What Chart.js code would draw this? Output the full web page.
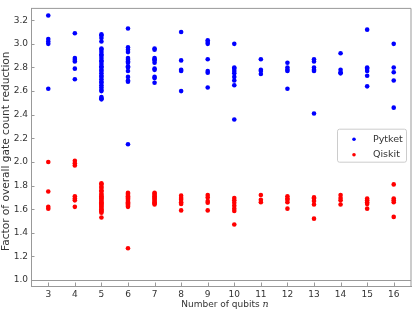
<!DOCTYPE html>
<html><head><meta charset="utf-8">
<script src="https://cdn.jsdelivr.net/npm/chart.js@4.4.0/dist/chart.umd.min.js"></script>
<style>html,body{margin:0;padding:0;background:#fff}#wrap{width:415px;height:313px}</style>
</head><body><div id="wrap"><canvas id="c" width="415" height="313"></canvas></div>
<script>
const qubits = [3,4,5,6,7,8,9,10,11,12,13,14,15,16];
const xTicks = [3,4,5,6,7,8,9,10,11,12,13,14,15,16];
const yTicks = [1.0,1.2,1.4,1.6,1.8,2.0,2.2,2.4,2.6,2.8,3.0,3.2];
const seriesNames = ['Pytket','Qiskit'];
const seriesColors = ['#0000ff','#ff0000'];
const pytketValues = [
  [3.24,3.04,3.02,3.00,2.62],
  [3.09,2.88,2.865,2.85,2.79,2.70],
  [3.08,3.07,3.05,3.02,2.96,2.95,2.93,2.91,2.90,2.88,2.86,2.85,2.83,2.81,2.80,2.78,2.77,2.75,2.73,2.72,2.70,2.68,2.67,2.65,2.63,2.61,2.60,2.55,2.54,2.53],
  [3.13,2.97,2.95,2.93,2.88,2.865,2.85,2.84,2.81,2.80,2.77,2.72,2.69,2.68,2.15],
  [2.96,2.95,2.88,2.87,2.86,2.84,2.79,2.78,2.72,2.71,2.67],
  [3.10,2.86,2.78,2.77,2.60],
  [3.03,3.015,3.00,2.87,2.77,2.755,2.63],
  [3.00,2.80,2.79,2.77,2.75,2.72,2.69,2.65,2.36],
  [2.87,2.78,2.77,2.745],
  [2.84,2.80,2.78,2.77,2.62],
  [2.87,2.85,2.80,2.78,2.77,2.41],
  [2.92,2.78,2.76,2.75],
  [3.12,2.80,2.79,2.77,2.73,2.64],
  [3.00,2.80,2.76,2.69,2.46]
];
const qiskitValues = [
  [2.00,1.75,1.62,1.605],
  [2.01,1.99,1.97,1.71,1.69,1.675,1.62],
  [1.82,1.81,1.79,1.78,1.76,1.75,1.73,1.72,1.71,1.70,1.69,1.68,1.67,1.66,1.65,1.64,1.63,1.62,1.61,1.60,1.59,1.58,1.57,1.53],
  [1.74,1.73,1.72,1.71,1.70,1.69,1.68,1.67,1.66,1.65,1.64,1.63,1.62,1.27],
  [1.74,1.73,1.72,1.71,1.70,1.69,1.68,1.67,1.66,1.65,1.64],
  [1.715,1.695,1.68,1.66,1.645,1.59],
  [1.72,1.70,1.67,1.655,1.59],
  [1.695,1.675,1.655,1.63,1.605,1.585,1.47],
  [1.72,1.68,1.66],
  [1.71,1.69,1.68,1.66,1.605],
  [1.70,1.69,1.67,1.64,1.52],
  [1.72,1.695,1.675,1.64],
  [1.69,1.675,1.66,1.645,1.605],
  [1.81,1.69,1.675,1.66,1.535]
];
const xTitle = 'Number of qubits ';
const xTitleVar = 'n';
const yTitle = 'Factor of overall gate count reduction';

function toPoints(vals){
  const pts = [];
  vals.forEach((arr,i)=>arr.forEach(v=>pts.push({x:qubits[i], y:v})));
  return pts;
}
const FONT = 'DejaVu Sans';
const TEXT = '#333';
const FRAME = '#999';

const framePlugin = {
  id:'frame',
  afterDraw(chart){
    const ctx = chart.ctx, a = chart.chartArea;
    const xs = chart.scales.x, ys = chart.scales.y;
    ctx.save();
    ctx.strokeStyle = FRAME; ctx.lineWidth = 1;
    ctx.beginPath();
    ctx.moveTo(a.left, a.top); ctx.lineTo(a.right, a.top); ctx.lineTo(a.right, a.bottom);
    ctx.stroke();
    // inward ticks
    ctx.beginPath();
    xTicks.forEach(v=>{ const px = Math.round(xs.getPixelForValue(v))+0.5; ctx.moveTo(px, a.bottom); ctx.lineTo(px, a.bottom-3.5); });
    yTicks.forEach(v=>{ const py = Math.round(ys.getPixelForValue(v))+0.5; ctx.moveTo(a.left, py); ctx.lineTo(a.left+3.5, py); });
    ctx.stroke();
    // x title with italic variable
    ctx.fillStyle = TEXT;
    ctx.textBaseline = 'middle';
    ctx.font = '9px "'+FONT+'"';
    const w1 = ctx.measureText(xTitle).width;
    ctx.font = 'italic 9.5px "DejaVu Serif"';
    const w2 = ctx.measureText(xTitleVar).width;
    const cx = (a.left + a.right)/2 + 4;
    const ty = a.bottom + 18.5;
    ctx.font = '9px "'+FONT+'"';
    ctx.textAlign = 'left';
    ctx.fillText(xTitle, cx - (w1+w2)/2, ty);
    ctx.font = 'italic 9.5px "DejaVu Serif"';
    ctx.fillText(xTitleVar, cx - (w1+w2)/2 + w1, ty);
    // y title
    ctx.save();
    ctx.translate(6, (a.top + a.bottom)/2 + 4);
    ctx.rotate(-Math.PI/2);
    ctx.textAlign = 'center';
    ctx.font = '10.6px "'+FONT+'"';
    ctx.fillText(yTitle, 0, 0);
    ctx.restore();
    // legend
    const lw = 69, lh = 33;
    const lx = a.right - 5 - lw, ly = (a.top + a.bottom)/2 - 18.5;
    ctx.fillStyle = '#fff';
    ctx.strokeStyle = '#ccc';
    ctx.beginPath();
    if (ctx.roundRect) ctx.roundRect(lx+0.5, ly+0.5, lw, lh, 2); else ctx.rect(lx+0.5, ly+0.5, lw, lh);
    ctx.fill(); ctx.stroke();
    chart.data.datasets.forEach((ds,i)=>{
      const yy = ly + 10.5 + i*15.5;
      ctx.fillStyle = ds.backgroundColor;
      ctx.beginPath(); ctx.arc(lx + 17, yy, 1.8, 0, Math.PI*2); ctx.fill();
      ctx.fillStyle = TEXT;
      ctx.font = '9.5px "'+FONT+'"';
      ctx.textAlign = 'left';
      ctx.fillText(ds.label, lx + 36, yy);
    });
    ctx.restore();
  }
};

new Chart(document.getElementById('c'), {
  type:'scatter',
  data:{ datasets:[
    {label:seriesNames[0], data:toPoints(pytketValues), backgroundColor:seriesColors[0], borderWidth:0, pointRadius:2.3},
    {label:seriesNames[1], data:toPoints(qiskitValues), backgroundColor:seriesColors[1], borderWidth:0, pointRadius:2.3}
  ]},
  options:{
    responsive:false, animation:false, devicePixelRatio:1,
    layout:{padding:{top:1,right:2,left:0,bottom:0}},
    plugins:{legend:{display:false}, tooltip:{enabled:false}},
    scales:{
      x:{type:'linear', min:2.35, max:16.65,
        afterBuildTicks:s=>{s.ticks = xTicks.map(v=>({value:v}));},
        afterFit:s=>{s.height = 27;},
        ticks:{font:{family:FONT,size:9}, color:TEXT, padding:3, maxRotation:0, autoSkip:false, callback:v=>String(v)},
        grid:{display:false, drawTicks:false},
        border:{color:FRAME, width:1}
      },
      y:{type:'linear', min:0.95, max:3.3,
        afterBuildTicks:s=>{s.ticks = yTicks.map(v=>({value:v}));},
        afterFit:s=>{s.width = 31;},
        ticks:{font:{family:FONT,size:9}, color:TEXT, padding:3, callback:v=>Number(v).toFixed(1)},
        grid:{drawTicks:false, color:c=>(c.tick && Math.abs(c.tick.value-1)<1e-9)?FRAME:'rgba(0,0,0,0)'},
        border:{color:FRAME, width:1},
        title:{display:false}
      }
    }
  },
  plugins:[framePlugin]
});
</script></body></html>
